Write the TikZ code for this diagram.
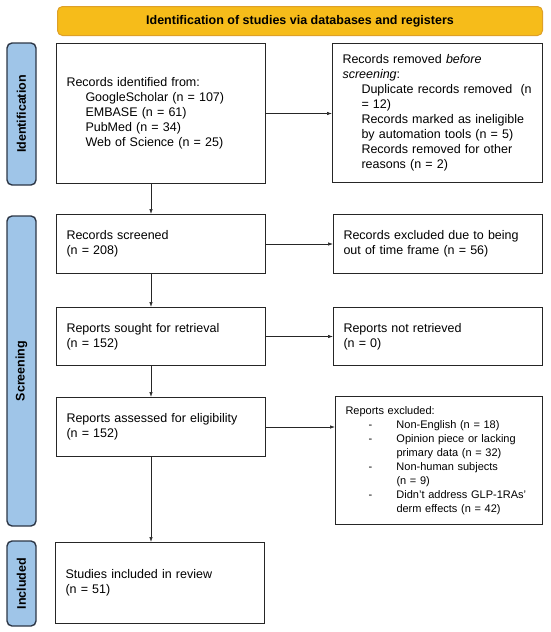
\documentclass[tikz,border=0pt]{standalone}
\usepackage{fontspec}
\setmainfont{Liberation Sans}
\usetikzlibrary{arrows.meta}
\definecolor{bannerfill}{RGB}{246,188,26}
\definecolor{bannerline}{RGB}{222,160,40}
\definecolor{phasefill}{RGB}{159,197,232}
\definecolor{phaseline}{RGB}{45,55,70}
\tikzset{
  box/.style={draw=black!85, line width=1pt, anchor=north west, align=left,
    inner xsep=10pt, font=\fontsize{12.5}{15}\selectfont},
  phasebox/.style={draw=phaseline, fill=phasefill, line width=1.4pt,
    rounded corners=5pt, rotate=90, minimum height=29pt,
    font=\bfseries\fontsize{12.5}{15}\selectfont},
  arr/.style={-{Latex[length=5pt,width=3.5pt]}, line width=0.7pt, black!85},
}
\begin{document}
\begin{tikzpicture}[x=1pt,y=-1pt]
\useasboundingbox (0,0) rectangle (550,632);
% Cabecera
\node[draw=bannerline, fill=bannerfill, line width=1pt, rounded corners=5pt,
  minimum width=485pt, minimum height=29pt, anchor=north west,
  font=\bfseries\fontsize{12.5}{15}\selectfont] (head) at (57,6)
  {Identification of studies via databases and registers};
% Fases
\node[phasebox, minimum width=142pt] (ident) at (21.5,114) {Identification};
\node[phasebox, minimum width=310pt] (screen) at (21.5,371) {Screening};
\node[phasebox, minimum width=85pt] (incl) at (21.5,583.5) {Included};
% Columna izquierda
\node[box, minimum width=209pt, minimum height=140pt, text width=189pt] (found) at (56,43)
  {Records identified from:\\
   \hspace*{19pt}GoogleScholar (n = 107)\\
   \hspace*{19pt}EMBASE (n = 61)\\
   \hspace*{19pt}PubMed (n = 34)\\
   \hspace*{19pt}Web of Science (n = 25)};
\node[box, minimum width=209pt, minimum height=59pt, text width=189pt] (screened) at (56,214)
  {Records screened\\(n = 208)};
\node[box, minimum width=209pt, minimum height=58pt, text width=189pt] (sought) at (56,307)
  {Reports sought for retrieval\\(n = 152)};
\node[box, minimum width=209pt, minimum height=59pt, text width=189pt] (assessed) at (56,397)
  {Reports assessed for eligibility\\(n = 152)};
\node[box, minimum width=209pt, minimum height=81pt, text width=189pt] (included) at (55,542)
  {Studies included in review\\(n = 51)};
% Columna derecha
\node[box, minimum width=210pt, minimum height=139pt, text width=190pt] (removed) at (332,43)
  {Records removed \textit{before}\\
   \textit{screening}:\\
   \hspace*{19pt}Duplicate records removed\ \ (n\\
   \hspace*{19pt}= 12)\\
   \hspace*{19pt}Records marked as ineligible\\
   \hspace*{19pt}by automation tools (n = 5)\\
   \hspace*{19pt}Records removed for other\\
   \hspace*{19pt}reasons (n = 2)};
\node[box, minimum width=209pt, minimum height=59pt, text width=189pt] (timeframe) at (333,214)
  {Records excluded due to being\\out of time frame (n = 56)};
\node[box, minimum width=209pt, minimum height=58pt, text width=189pt] (notfound) at (333,307)
  {Reports not retrieved\\(n = 0)};
\node[box, minimum width=207pt, minimum height=128pt, text width=187pt,
  font=\fontsize{11}{14}\selectfont] (excluded) at (335,396)
  {Reports excluded:\\
   \hspace*{23pt}\makebox[28pt][l]{-}Non-English (n = 18)\\
   \hspace*{23pt}\makebox[28pt][l]{-}Opinion piece or lacking\\
   \hspace*{51pt}primary data (n = 32)\\
   \hspace*{23pt}\makebox[28pt][l]{-}Non-human subjects\\
   \hspace*{51pt}(n = 9)\\
   \hspace*{23pt}\makebox[28pt][l]{-}Didn't address GLP-1RAs'\\
   \hspace*{51pt}derm effects (n = 42)};
% Flechas
\draw[arr] (found.east) -- (found.east -| removed.west);
\draw[arr] (screened.east) -- (screened.east -| timeframe.west);
\draw[arr] (sought.east) -- (sought.east -| notfound.west);
\draw[arr] (assessed.east) -- (assessed.east -| excluded.west);
\draw[arr] ([xshift=-10pt]found.south) -- ([xshift=-10pt]screened.north);
\draw[arr] ([xshift=-10pt]screened.south) -- ([xshift=-10pt]sought.north);
\draw[arr] ([xshift=-10pt]sought.south) -- ([xshift=-10pt]assessed.north);
\draw[arr] ([xshift=-10pt]assessed.south) -- ([xshift=-9pt]included.north);
\end{tikzpicture}
\end{document}
